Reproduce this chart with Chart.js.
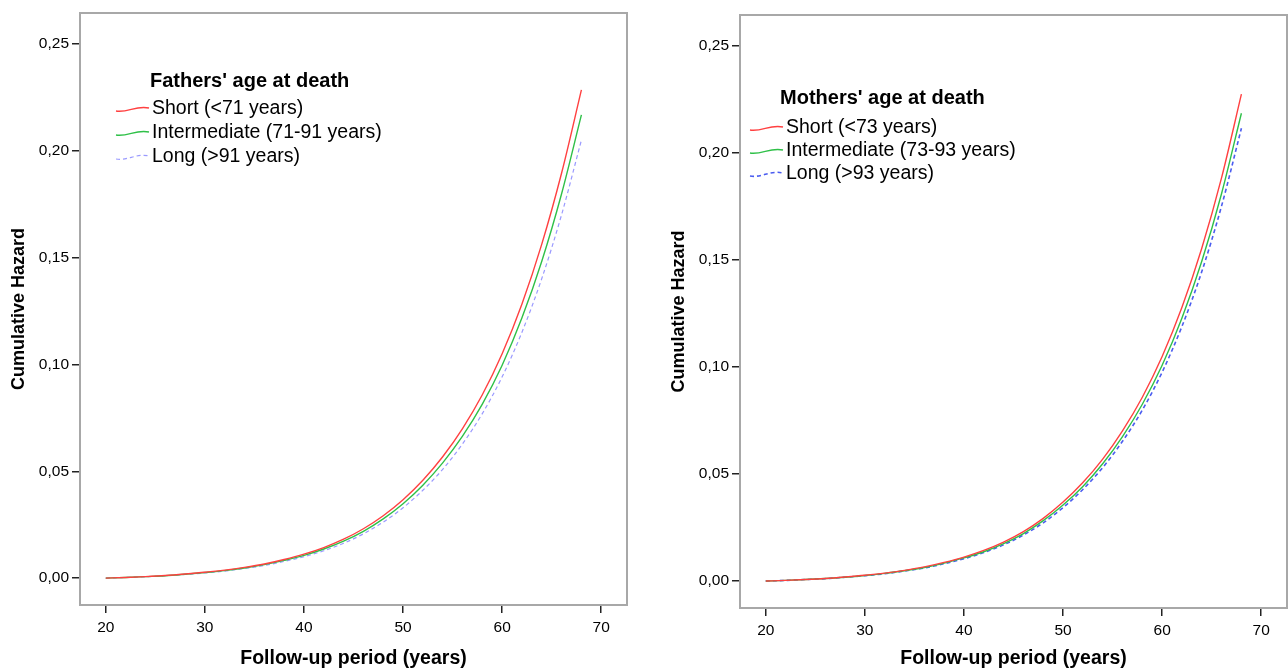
<!DOCTYPE html>
<html lang="en">
<head>
  <meta charset="UTF-8" />
  <title>Cumulative Hazard</title>
  <script src="https://cdn.jsdelivr.net/npm/chart.js"></script>
  <style>
    body { margin: 0; background: #fff; width: 1288px; height: 670px; overflow: hidden; }
    .panel { position: absolute; top: 0; height: 670px; }
    #left { left: 0; width: 640px; }
    #right { left: 660px; width: 628px; }
  </style>
</head>
<body>
  <div class="panel" id="left"><canvas id="chart-fathers"></canvas></div>
  <div class="panel" id="right"><canvas id="chart-mothers"></canvas></div>

  <script>
    const years = [20, 22, 24, 26, 28, 30, 32, 34, 36, 38, 40, 42, 44, 46, 48, 50, 52, 54, 56, 58, 60, 62, 64, 66, 68];
    const yTicks = [0, 0.05, 0.10, 0.15, 0.20, 0.25];
    const xTicks = [20, 30, 40, 50, 60, 70];

    const fatherShort = [0, 0.0003, 0.0007, 0.0012, 0.0019, 0.0027, 0.0037, 0.0050, 0.0066, 0.0087, 0.0112, 0.0143, 0.0182, 0.0231, 0.0292, 0.0367, 0.0458, 0.0568, 0.0700, 0.0858, 0.1050, 0.1283, 0.1563, 0.1896, 0.2285];
    const fatherMid   = [0, 0.0003, 0.0007, 0.0011, 0.0018, 0.0026, 0.0035, 0.0047, 0.0063, 0.0083, 0.0106, 0.0136, 0.0173, 0.0219, 0.0277, 0.0348, 0.0435, 0.0539, 0.0664, 0.0814, 0.0996, 0.1218, 0.1483, 0.1799, 0.2168];
    const fatherLong  = [0, 0.0003, 0.0006, 0.0011, 0.0017, 0.0024, 0.0033, 0.0045, 0.0059, 0.0078, 0.0100, 0.0128, 0.0163, 0.0207, 0.0262, 0.0329, 0.0411, 0.0509, 0.0628, 0.0770, 0.0942, 0.1151, 0.1402, 0.1701, 0.2050];

    const motherShort = [0, 0.0003, 0.0007, 0.0012, 0.0019, 0.0027, 0.0037, 0.0050, 0.0066, 0.0087, 0.0112, 0.0143, 0.0182, 0.0231, 0.0293, 0.0369, 0.0460, 0.0570, 0.0702, 0.0859, 0.1049, 0.1279, 0.1555, 0.1885, 0.2275];
    const motherMid   = [0, 0.0003, 0.0007, 0.0012, 0.0018, 0.0026, 0.0036, 0.0048, 0.0063, 0.0084, 0.0108, 0.0137, 0.0175, 0.0222, 0.0282, 0.0355, 0.0442, 0.0548, 0.0675, 0.0826, 0.1008, 0.1229, 0.1494, 0.1811, 0.2186];
    const motherLong  = [0, 0.0003, 0.0007, 0.0011, 0.0018, 0.0025, 0.0034, 0.0047, 0.0061, 0.0081, 0.0104, 0.0133, 0.0169, 0.0215, 0.0272, 0.0343, 0.0428, 0.0530, 0.0653, 0.0799, 0.0976, 0.1190, 0.1446, 0.1753, 0.2116];

    const fatherLabels = ['Short (<71 years)', 'Intermediate (71-91 years)', 'Long (>91 years)'];
    const motherLabels = ['Short (<73 years)', 'Intermediate (73-93 years)', 'Long (>93 years)'];

    const FONT = '"Liberation Sans", Arial, sans-serif';
    const RED = '#ff4040';
    const GREEN = '#2fc048';

    function points(values) {
      return years.map((x, i) => ({ x, y: values[i] }));
    }

    // frame + legend with wavy line samples
    const framePlugin = {
      id: 'frame',
      afterDraw(chart) {
        const { ctx, chartArea: a } = chart;
        ctx.save();
        ctx.strokeStyle = '#a8a8a8';
        ctx.lineWidth = 2;
        ctx.strokeRect(a.left, a.top, a.right - a.left, a.bottom - a.top);

        const lg = chart.options.plugins.waveLegend;
        ctx.fillStyle = '#000';
        ctx.textBaseline = 'middle';
        ctx.font = 'bold 20px ' + FONT;
        ctx.fillText(lg.title, lg.titleX, lg.titleY);
        ctx.font = '19.5px ' + FONT;
        chart.data.datasets.forEach((ds, i) => {
          const y = lg.y0 + i * lg.gap;
          ctx.fillText(ds.label, lg.textX, y);
          ctx.beginPath();
          ctx.strokeStyle = ds.borderColor;
          ctx.lineWidth = ds.borderWidth;
          ctx.setLineDash(ds.borderDash || []);
          const x0 = lg.textX - 36, x1 = lg.textX - 3;
          ctx.moveTo(x0, y + 2);
          ctx.bezierCurveTo(x0 + 12, y + 4, x0 + 20, y - 4, x1, y - 1);
          ctx.stroke();
          ctx.setLineDash([]);
        });
        ctx.restore();
      }
    };

    function makeChart(id, series, labels, legend, box) {
      const canvas = document.getElementById(id);
      canvas.width = box.w;
      canvas.height = 670;
      canvas.style.width = box.w + 'px';
      canvas.style.height = '670px';

      return new Chart(canvas, {
        type: 'line',
        data: {
          datasets: [
            { label: labels[0], data: points(series[0]), borderColor: RED, borderWidth: 1.4 },
            { label: labels[1], data: points(series[1]), borderColor: GREEN, borderWidth: 1.4 },
            { label: labels[2], data: points(series[2]), borderColor: box.blue, borderWidth: box.blueWidth, borderDash: [4, 3] }
          ]
        },
        options: {
          responsive: false,
          animation: false,
          parsing: false,
          elements: { point: { radius: 0 }, line: { tension: 0.4, cubicInterpolationMode: 'monotone' } },
          layout: { padding: { top: box.top, right: box.right, left: 0, bottom: 0 } },
          plugins: {
            legend: { display: false },
            tooltip: { enabled: false },
            waveLegend: legend
          },
          scales: {
            x: {
              type: 'linear',
              min: 17.4,
              max: 72.6,
              afterBuildTicks: s => { s.ticks = xTicks.map(v => ({ value: v })); },
              afterFit: s => { s.height = box.xh; },
              grid: { drawOnChartArea: false, color: '#222', tickLength: 8, lineWidth: 1.5 },
              border: { display: false },
              ticks: { color: '#000', font: { family: FONT, size: 15.5 }, padding: 5, maxRotation: 0 },
              title: {
                display: true,
                text: 'Follow-up period (years)',
                color: '#000',
                font: { family: FONT, size: 19.5, weight: 'bold' },
                padding: { top: 14, bottom: 0 }
              }
            },
            y: {
              min: -0.0126,
              max: 0.2645,
              afterBuildTicks: s => { s.ticks = yTicks.map(v => ({ value: v })); },
              afterFit: s => { s.width = 80; },
              grid: { drawOnChartArea: false, color: '#222', tickLength: 8, lineWidth: 1.5 },
              border: { display: false },
              ticks: {
                color: '#000',
                font: { family: FONT, size: 15.5 },
                padding: 3,
                callback: v => v.toFixed(2).replace('.', ',')
              },
              title: {
                display: true,
                text: 'Cumulative Hazard',
                color: '#000',
                font: { family: FONT, size: 18, weight: 'bold' },
                padding: { top: 8, bottom: 0 }
              }
            }
          }
        },
        plugins: [framePlugin]
      });
    }

    makeChart('chart-fathers', [fatherShort, fatherMid, fatherLong], fatherLabels,
      { title: "Fathers' age at death", titleX: 150, titleY: 81, textX: 152, y0: 109, gap: 24 },
      { w: 640, top: 13, right: 13, xh: 65, blue: '#9a9aff', blueWidth: 1.2 });

    makeChart('chart-mothers', [motherShort, motherMid, motherLong], motherLabels,
      { title: "Mothers' age at death", titleX: 120, titleY: 98, textX: 126, y0: 128, gap: 23 },
      { w: 628, top: 15, right: 1, xh: 62, blue: '#4a5cf0', blueWidth: 1.6 });
  </script>
</body>
</html>
